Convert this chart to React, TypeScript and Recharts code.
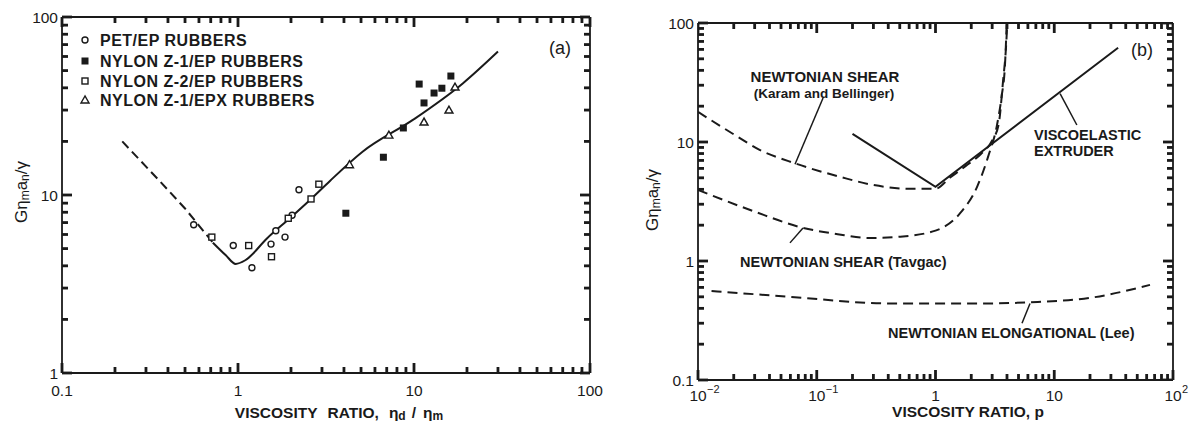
import React from "react";
import { ComposedChart, Line, Scatter, XAxis, YAxis, ReferenceLine } from "recharts";

const INK = "#1a1a1a";
const FONT = '"Liberation Sans", Arial, sans-serif';
const MINOR = 6;
const MAJOR = 10;
const TICK_W = 2.8;

// ---------- panel (a) ----------
const xTicksA = [0.1, 0.2, 0.3, 0.4, 0.5, 0.6, 0.7, 0.8, 0.9, 1, 2, 3, 4, 5, 6, 7, 8, 9, 10, 20, 30, 40, 50, 60, 70, 80, 90, 100];
const yTicksA = [1, 2, 3, 4, 5, 6, 7, 8, 9, 10, 20, 30, 40, 50, 60, 70, 80, 90, 100];
const xMajorA = [0.1, 1, 10, 100];
const xLabelsA = ["0.1", "1", "10", "100"];
const yMajorA = [1, 10, 100];
const yLabelsA = ["1", "10", "100"];

const fitDashedA: [number, number][] = [[0.22, 20], [0.35, 12.3], [0.5, 8.4], [0.72, 5.4]];
const fitSolidA: [number, number][] = [
  [0.72, 5.4], [0.85, 4.6], [0.97, 4.1], [1.1, 4.3], [1.46, 5.7], [2, 7.5], [2.6, 9.5],
  [3.33, 12], [5.1, 17.5], [9.9, 26.5], [19, 42.5], [30, 64],
];
const petEP: [number, number][] = [[0.56, 6.8], [0.94, 5.2], [1.2, 3.9], [1.54, 5.3], [1.64, 6.3], [1.85, 5.8], [2.03, 7.7], [2.22, 10.7]];
const nylonZ1EP: [number, number][] = [[4.1, 7.9], [6.7, 16.3], [8.7, 23.8], [10.7, 42], [11.4, 32.9], [13, 37.4], [14.4, 39.8], [16.2, 46.6]];
const nylonZ2EP: [number, number][] = [[0.71, 5.8], [1.15, 5.2], [1.55, 4.5], [1.93, 7.4], [2.6, 9.5], [2.88, 11.5]];
const nylonZ1EPX: [number, number][] = [[4.3, 14.8], [7.2, 21.7], [11.4, 25.7], [15.8, 30], [17.1, 40.4]];
const legendA = ["PET/EP RUBBERS", "NYLON Z-1/EP RUBBERS", "NYLON Z-2/EP RUBBERS", "NYLON Z-1/EPX RUBBERS"];

// ---------- panel (b) ----------
const xTicksB = [0.01, 0.02, 0.03, 0.04, 0.05, 0.06, 0.07, 0.08, 0.09, 0.1, 0.2, 0.3, 0.4, 0.5, 0.6, 0.7, 0.8, 0.9, 1, 2, 3, 4, 5, 6, 7, 8, 9, 10, 20, 30, 40, 50, 60, 70, 80, 90, 100];
const yTicksB = [0.1, 0.2, 0.3, 0.4, 0.5, 0.6, 0.7, 0.8, 0.9, 1, 2, 3, 4, 5, 6, 7, 8, 9, 10, 20, 30, 40, 50, 60, 70, 80, 90, 100];
const xMajorB = [0.01, 0.1, 1, 10, 100];
const xLabelsB = ["10", "10", "1", "10", "10"];
const xSupsB = ["\u22122", "\u22121", "", "", "2"];
const yMajorB = [0.1, 1, 10, 100];
const yLabelsB = ["0.1", "1", "10", "100"];

const karamBellinger: [number, number][] = [
  [0.01, 17.9], [0.02, 11.6], [0.033, 8.6], [0.066, 6.6], [0.157, 5.1], [0.3, 4.35], [0.6, 4.05], [1, 4.05],
  [1.32, 5.0], [1.8, 6.3], [2.4, 7.9], [3.0, 10.3], [3.4, 14], [3.7, 32], [3.95, 70], [4.02, 100],
];
const tavgac: [number, number][] = [
  [0.01, 3.95], [0.03, 2.6], [0.072, 1.93], [0.15, 1.68], [0.28, 1.56], [0.5, 1.6], [1, 1.8], [1.6, 2.5],
  [2.24, 4.2], [2.77, 7.5], [3.3, 14], [3.6, 24], [3.85, 45], [3.98, 100],
];
const viscoelastic: [number, number][] = [[0.2, 11.7], [1, 4.2], [34.5, 62]];
const leeElong: [number, number][] = [[0.013, 0.56], [0.06, 0.5], [0.41, 0.44], [2.9, 0.44], [6.2, 0.45], [20, 0.49], [64, 0.63]];

const pts = (a: [number, number][]) => a.map(([x, y]) => ({ x, y }));
const findMajor = (majors: number[], v: number) => majors.findIndex((m) => Math.abs(m - v) / m < 1e-6);

const labelStyle = { fontFamily: FONT, fontWeight: 700, fill: INK } as const;
const numStyle = { fontFamily: FONT, fontWeight: 400, fill: INK, fontSize: 15.5 } as const;

// bottom / left axes: inward tick + decade label
function bottomTick(majors: number[], labels: string[], sups: string[], dy: number) {
  return (props: any) => {
    const { x, y, payload } = props;
    const i = findMajor(majors, payload.value);
    const len = i >= 0 ? MAJOR : MINOR;
    return (
      <g>
        <rect x={x - TICK_W / 2} y={y - len} width={TICK_W} height={len} fill={INK} />
        {i >= 0 && <text x={x} y={y + dy} textAnchor="middle" dominantBaseline="central" {...numStyle}>{labels[i]}</text>}
        {i >= 0 && sups[i] && (
          <text x={x + 9} y={y + dy - 6} textAnchor="start" dominantBaseline="central" {...numStyle} fontSize={11}>{sups[i]}</text>
        )}
      </g>
    );
  };
}

function leftTick(majors: number[], labels: string[]) {
  return (props: any) => {
    const { x, y, payload } = props;
    const i = findMajor(majors, payload.value);
    const len = i >= 0 ? MAJOR : MINOR;
    return (
      <g>
        <rect x={x} y={y - TICK_W / 2} width={len} height={TICK_W} fill={INK} />
        {i >= 0 && <text x={x - 4} y={y} textAnchor="end" dominantBaseline="central" {...numStyle}>{labels[i]}</text>}
      </g>
    );
  };
}

// top / right edges: tick marks placed as points on the frame
type Side = "top" | "right";
function edgeMark(side: Side, majors: number[]) {
  return (props: any) => {
    const { cx, cy, payload } = props;
    const v = side === "top" ? payload.x : payload.y;
    const len = findMajor(majors, v) >= 0 ? MAJOR : MINOR;
    return side === "top"
      ? <rect x={cx - TICK_W / 2} y={cy} width={TICK_W} height={len} fill={INK} />
      : <rect x={cx - len} y={cy - TICK_W / 2} width={len} height={TICK_W} fill={INK} />;
  };
}

const OpenCircle = ({ cx, cy }: any) => <circle cx={cx} cy={cy} r={3} fill="#fff" stroke={INK} strokeWidth={1.4} />;
const OpenSquare = ({ cx, cy }: any) => <rect x={cx - 3} y={cy - 3} width={6} height={6} fill="#fff" stroke={INK} strokeWidth={1.4} />;
const FilledSquare = ({ cx, cy }: any) => <rect x={cx - 3.5} y={cy - 3.5} width={7} height={7} fill={INK} />;
const OpenTriangle = ({ cx, cy }: any) => (
  <polygon points={`${cx},${cy - 4} ${cx - 4},${cy + 3} ${cx + 4},${cy + 3}`} fill="#fff" stroke={INK} strokeWidth={1.4} />
);

const axisLine = { stroke: INK, strokeWidth: 1.8 };
const axisCommon = {
  type: "number" as const,
  scale: "log" as const,
  interval: 0 as const,
  tickSize: 0,
  tickMargin: 0,
  tickLine: false,
  axisLine,
};

const domXA = [0.1, 100];
const domYA = [1, 100];
const domXB = [0.01, 100];
const domYB = [0.1, 100];

function PanelA() {
  return (
    <ComposedChart width={615} height={427} margin={{ top: 16, right: 24, bottom: 53, left: 0 }}>
      <XAxis {...axisCommon} dataKey="x" domain={domXA} ticks={xTicksA} height={1} tick={bottomTick(xMajorA, xLabelsA, [], 17)} />
      <XAxis {...axisCommon} xAxisId="top" orientation="top" domain={domXA} ticks={xMajorA} height={1} tick={false} />
      <YAxis {...axisCommon} dataKey="y" domain={domYA} ticks={yTicksA} width={62} tick={leftTick(yMajorA, yLabelsA)} />
      <YAxis {...axisCommon} yAxisId="right" orientation="right" domain={domYA} ticks={yMajorA} width={1} tick={false} />
      <Scatter data={xTicksA.map((x) => ({ x, y: domYA[1] }))} dataKey="y" shape={edgeMark("top", xMajorA)} isAnimationActive={false} />
      <Scatter data={yTicksA.map((y) => ({ x: domXA[1], y }))} dataKey="y" shape={edgeMark("right", yMajorA)} isAnimationActive={false} />
      <Line data={pts(fitDashedA)} dataKey="y" type="linear" stroke={INK} strokeWidth={2} strokeDasharray="9 5" dot={false} activeDot={false} isAnimationActive={false} />
      <Line data={pts(fitSolidA)} dataKey="y" type="monotone" stroke={INK} strokeWidth={2} dot={false} activeDot={false} isAnimationActive={false} />
      <Scatter data={pts(petEP)} dataKey="y" shape={OpenCircle} isAnimationActive={false} />
      <Scatter data={pts(nylonZ2EP)} dataKey="y" shape={OpenSquare} isAnimationActive={false} />
      <Scatter data={pts(nylonZ1EP)} dataKey="y" shape={FilledSquare} isAnimationActive={false} />
      <Scatter data={pts(nylonZ1EPX)} dataKey="y" shape={OpenTriangle} isAnimationActive={false} />
    </ComposedChart>
  );
}

function PanelB() {
  const dash = { stroke: INK, strokeWidth: 2, strokeDasharray: "10 6", dot: false, activeDot: false, isAnimationActive: false } as const;
  const pointer = { stroke: INK, strokeWidth: 1.5, ifOverflow: "visible" as const };
  return (
    <ComposedChart width={593} height={427} margin={{ top: 22, right: 19, bottom: 46, left: 0 }}>
      <XAxis {...axisCommon} dataKey="x" domain={domXB} ticks={xTicksB} height={1} tick={bottomTick(xMajorB, xLabelsB, xSupsB, 15)} allowDataOverflow />
      <XAxis {...axisCommon} xAxisId="top" orientation="top" domain={domXB} ticks={xMajorB} height={1} tick={false} />
      <YAxis {...axisCommon} dataKey="y" domain={domYB} ticks={yTicksB} width={98} tick={leftTick(yMajorB, yLabelsB)} allowDataOverflow />
      <YAxis {...axisCommon} yAxisId="right" orientation="right" domain={domYB} ticks={yMajorB} width={1} tick={false} />
      <Scatter data={xTicksB.map((x) => ({ x, y: domYB[1] }))} dataKey="y" shape={edgeMark("top", xMajorB)} isAnimationActive={false} />
      <Scatter data={yTicksB.map((y) => ({ x: domXB[1], y }))} dataKey="y" shape={edgeMark("right", yMajorB)} isAnimationActive={false} />
      <Line data={pts(karamBellinger)} dataKey="y" type="monotone" {...dash} />
      <Line data={pts(tavgac)} dataKey="y" type="monotone" {...dash} />
      <Line data={pts(leeElong)} dataKey="y" type="monotone" {...dash} />
      <Line data={pts(viscoelastic)} dataKey="y" type="linear" stroke={INK} strokeWidth={2} dot={false} activeDot={false} isAnimationActive={false} />
      <ReferenceLine segment={[{ x: 0.113, y: 23.4 }, { x: 0.0656, y: 6.5 }]} {...pointer} />
      <ReferenceLine segment={[{ x: 0.0595, y: 1.42 }, { x: 0.0766, y: 1.89 }]} {...pointer} />
      <ReferenceLine segment={[{ x: 5.35, y: 0.3 }, { x: 6.25, y: 0.44 }]} {...pointer} />
      <ReferenceLine segment={[{ x: 15.5, y: 13.9 }, { x: 11.2, y: 25.5 }]} {...pointer} />
    </ComposedChart>
  );
}

function Overlay() {
  const t = { ...labelStyle, dominantBaseline: "central" as const };
  const legendY = [40, 61, 81, 100];
  const legendShapes = [OpenCircle, FilledSquare, OpenSquare, OpenTriangle];
  return (
    <svg width={1193} height={427} style={{ position: "absolute", left: 0, top: 0, pointerEvents: "none" }}>
      {legendA.map((name, i) => {
        const S = legendShapes[i];
        return (
          <g key={name}>
            <S cx={85} cy={legendY[i]} />
            <text x={100} y={legendY[i]} fontSize={16} letterSpacing={0.5} {...t}>{name}</text>
          </g>
        );
      })}
      <text x={560} y={48} fontSize={18} textAnchor="middle" {...t} fontWeight={400}>(a)</text>
      <text x={1142} y={50} fontSize={18} textAnchor="middle" {...t} fontWeight={400}>(b)</text>

      <text transform="translate(21,192) rotate(-90)" fontSize={17} textAnchor="middle" {...t} fontWeight={400}>
        G<tspan>η</tspan><tspan fontSize={12} dy={4}>m</tspan><tspan dy={-4}>a</tspan><tspan fontSize={12} dy={4}>n</tspan><tspan dy={-4}>/γ</tspan>
      </text>
      <text transform="translate(652,200) rotate(-90)" fontSize={17} textAnchor="middle" {...t} fontWeight={400}>
        G<tspan>η</tspan><tspan fontSize={12} dy={4}>m</tspan><tspan dy={-4}>a</tspan><tspan fontSize={12} dy={4}>n</tspan><tspan dy={-4}>/γ</tspan>
      </text>

      <text x={339} y={412} fontSize={15.5} textAnchor="middle" {...t}>
        VISCOSITY<tspan dx={10}>RATIO,</tspan><tspan dx={10}>η</tspan><tspan fontSize={12} dy={4}>d</tspan><tspan dy={-4} dx={6}>/</tspan><tspan dx={7}>η</tspan><tspan fontSize={12} dy={4}>m</tspan>
      </text>
      <text x={968} y={411} fontSize={15.5} textAnchor="middle" {...t}>VISCOSITY RATIO, p</text>

      <text x={825} y={76} fontSize={15} textAnchor="middle" {...t}>NEWTONIAN SHEAR</text>
      <text x={824} y={93} fontSize={13.5} textAnchor="middle" {...t}>(Karam and Bellinger)</text>
      <text x={1034} y={135} fontSize={14.5} {...t}>VISCOELASTIC</text>
      <text x={1034} y={151} fontSize={14.5} {...t}>EXTRUDER</text>
      <text x={740} y={262} fontSize={14.5} {...t}>NEWTONIAN SHEAR (Tavgac)</text>
      <text x={888} y={333} fontSize={14.5} {...t}>NEWTONIAN ELONGATIONAL (Lee)</text>
    </svg>
  );
}

export default function App() {
  return (
    <div style={{ position: "absolute", left: 0, top: 0, width: 1193, height: 427, background: "#fff" }}>
      <div style={{ position: "absolute", left: 0, top: 0 }}>
        <PanelA />
      </div>
      <div style={{ position: "absolute", left: 600, top: 0 }}>
        <PanelB />
      </div>
      <Overlay />
    </div>
  );
}
